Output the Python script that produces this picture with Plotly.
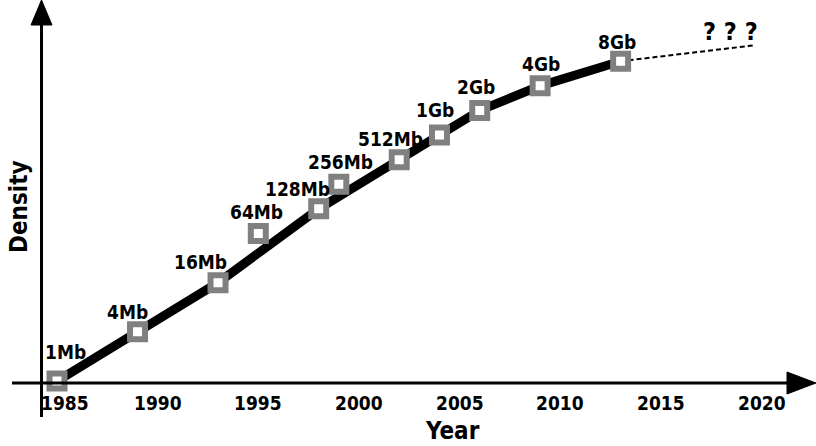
import math
import plotly.graph_objects as go

# ---- data ----
years = [1985, 1989, 1993, 1995, 1998, 1999, 2002, 2004, 2006, 2009, 2013]
density_mb = [1, 4, 16, 64, 128, 256, 512, 1024, 2048, 4096, 8192]
labels = ["1Mb", "4Mb", "16Mb", "64Mb", "128Mb", "256Mb", "512Mb", "1Gb", "2Gb", "4Gb", "8Gb"]

trend_years = [1985, 1989, 1993, 1998, 2002, 2004, 2006, 2009, 2013]
trend_density = [1, 4, 16, 128, 512, 1024, 2048, 4096, 8192]

future_years = [2013, 2019.7]
future_density = [8192, 12900]
future_label = "? ? ?"

tick_years = [1985, 1990, 1995, 2000, 2005, 2010, 2015, 2020]
tick_text = ["1985", "1990", "1995", "2000", "2005", "2010", "2015", "2020"]

# ---- label offsets (pixels) ----
label_dx = [8, -10, -18, -2, -21, 2, -9, -4, -4, 1, -4]
label_dy = [29, 20, 21, 21, 20, 22, 21, 25, 23, 22, 19]

W, H = 816, 446
FONT = "DejaVu Sans Condensed, DejaVu Sans, sans-serif"
LS = 19

fig = go.Figure()

fig.add_trace(go.Scatter(x=future_years, y=future_density, mode="lines",
                         line=dict(color="black", width=2, dash="5px,3px"),
                         hoverinfo="skip"))
fig.add_trace(go.Scatter(x=trend_years, y=trend_density, mode="lines",
                         line=dict(color="black", width=9),
                         hoverinfo="skip"))
fig.add_trace(go.Scatter(x=years, y=density_mb, mode="markers",
                         marker=dict(symbol="square", size=15, color="white",
                                     line=dict(color="#808080", width=6)),
                         hoverinfo="skip"))

ann = []
for x, y, t, dx, dy in zip(years, density_mb, labels, label_dx, label_dy):
    ann.append(dict(x=x, y=math.log10(y), xref="x", yref="y", text=t, showarrow=False,
                    xshift=dx, yshift=dy, xanchor="center", yanchor="middle",
                    font=dict(family=FONT, size=LS, color="black", weight="bold")))
ann.append(dict(x=future_years[-1], y=math.log10(future_density[-1]), xref="x", yref="y",
                text=future_label, showarrow=False, xshift=-25, yshift=14,
                xanchor="center", yanchor="middle",
                font=dict(family=FONT, size=25, color="black", weight="bold")))

# tick labels
for i, (tv, tt) in enumerate(zip(tick_years, tick_text)):
    ann.append(dict(x=tv, y=1 - 403 / H, xref="x", yref="paper", text=tt,
                    showarrow=False, xshift=(8 if i == 0 else 0),
                    xanchor="center", yanchor="middle",
                    font=dict(family=FONT, size=LS, color="black", weight="bold")))

ann.append(dict(x=452 / W, y=1 - 431 / H, xref="paper", yref="paper", text="Year",
                showarrow=False, xanchor="center", yanchor="middle",
                font=dict(family=FONT, size=24, color="black", weight="bold")))
ann.append(dict(x=19 / W, y=1 - 207 / H, xref="paper", yref="paper", text="Density",
                showarrow=False, xanchor="center", yanchor="middle", textangle=-90,
                font=dict(family=FONT, size=24, color="black", weight="bold")))

def px(x):
    return x / W

def py(y):
    return 1 - y / H

shapes = [
    # x axis
    dict(type="line", xref="paper", yref="paper", x0=px(12), x1=px(792),
         y0=py(383), y1=py(383), line=dict(color="black", width=3)),
    dict(type="path", xref="paper", yref="paper",
         path=f"M {px(787)},{py(372)} L {px(816)},{py(383)} L {px(787)},{py(394)} Z",
         fillcolor="black", line=dict(color="black", width=1)),
    # y axis
    dict(type="line", xref="paper", yref="paper", x0=px(41.5), x1=px(41.5),
         y0=py(417), y1=py(20), line=dict(color="black", width=3)),
    dict(type="path", xref="paper", yref="paper",
         path=f"M {px(31)},{py(25)} L {px(41.5)},{py(0)} L {px(52)},{py(25)} Z",
         fillcolor="black", line=dict(color="black", width=1)),
]

LOG2 = 0.30103
fig.update_layout(
    width=W, height=H,
    margin=dict(l=0, r=0, t=0, b=0),
    paper_bgcolor="white", plot_bgcolor="white",
    showlegend=False,
    xaxis=dict(range=[1985 - 57 / 20.13, 1985 + 759 / 20.13], visible=False),
    yaxis=dict(type="log", range=[-2.64 * LOG2, 15.49 * LOG2], visible=False),
    annotations=ann,
    shapes=shapes,
)

fig.write_html("out.html")
